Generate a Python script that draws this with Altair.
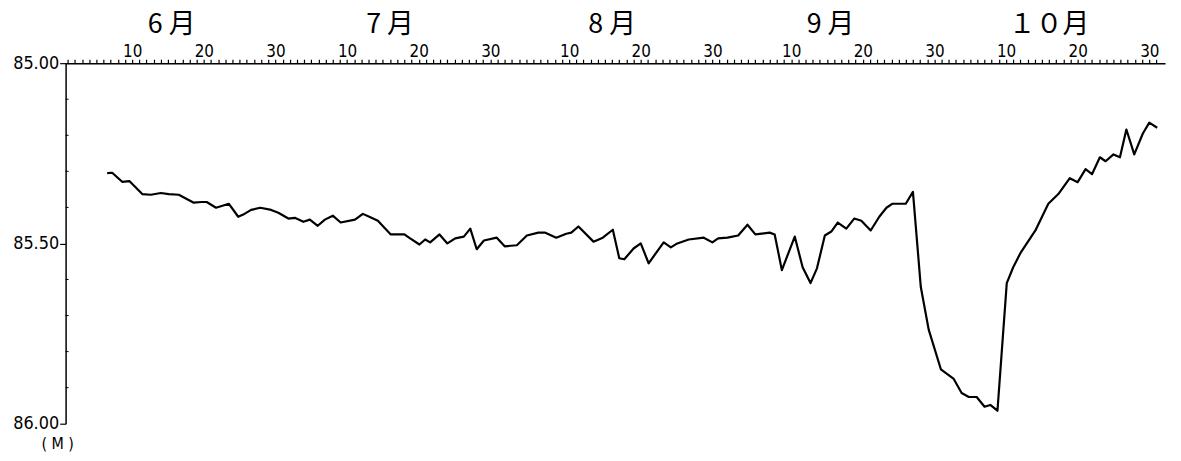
import altair as alt
import pandas as pd

# day number: June 1 = 1 ... Oct 31 = 153
day = [6.5, 7.2, 8.6, 9.6, 11.4, 12.6, 14.0, 15.1, 16.5, 18.6,
       19.7, 20.4, 21.7, 23.5, 24.8, 25.5, 26.6, 27.9, 29.4, 30.4,
       31.8, 32.7, 33.9, 34.8, 35.9, 36.9, 38.0, 39.1, 41.1, 42.2,
       43.1, 44.3, 46.1, 48.0, 48.8, 50.1, 50.9, 51.6, 52.9, 54.0,
       55.1, 56.3, 57.2, 58.1, 59.1, 60.9, 62.0, 63.7, 65.1, 66.7,
       67.6, 69.2, 70.6, 71.3, 72.3, 74.4, 75.7, 77.1, 78.0, 78.7,
       80.0, 81.0, 82.1, 84.2, 85.2, 86.1, 87.7, 89.8, 91.0, 91.8,
       93.1, 94.6, 95.9, 97.0, 99.0, 99.7, 100.7, 102.5, 103.6, 104.7,
       105.6, 106.7, 107.6, 108.5, 109.7, 110.8, 111.8, 113.1, 114.3, 115.3,
       116.1, 118.0, 119.0, 120.1, 121.2, 122.9, 124.7, 125.8, 126.8, 127.9,
       129.0, 129.8, 130.8, 132.1, 133.0, 134.0, 136.1, 137.9, 139.3, 140.9,
       142.0, 143.1, 144.0, 145.1, 145.9, 147.0, 147.9, 148.8, 149.9, 151.1,
       152.0, 153.1]

level = [85.305, 85.304, 85.329, 85.327, 85.363, 85.365, 85.360, 85.363, 85.365, 85.387,
         85.385, 85.385, 85.401, 85.390, 85.426, 85.420, 85.407, 85.401, 85.407, 85.415,
         85.431, 85.429, 85.440, 85.434, 85.451, 85.434, 85.423, 85.442, 85.434, 85.418,
         85.426, 85.437, 85.475, 85.475, 85.486, 85.503, 85.489, 85.497, 85.475, 85.500,
         85.486, 85.481, 85.459, 85.516, 85.492, 85.484, 85.508, 85.505, 85.478, 85.470,
         85.470, 85.484, 85.473, 85.470, 85.453, 85.495, 85.484, 85.462, 85.541, 85.544,
         85.514, 85.500, 85.555, 85.497, 85.511, 85.500, 85.489, 85.484, 85.497, 85.486,
         85.484, 85.478, 85.448, 85.475, 85.470, 85.475, 85.574, 85.481, 85.566, 85.610,
         85.569, 85.478, 85.467, 85.442, 85.459, 85.431, 85.437, 85.464, 85.426, 85.401,
         85.390, 85.390, 85.357, 85.621, 85.739, 85.849, 85.876, 85.915, 85.926, 85.926,
         85.953, 85.948, 85.964, 85.610, 85.566, 85.527, 85.464, 85.390, 85.363, 85.319,
         85.330, 85.294, 85.308, 85.261, 85.272, 85.253, 85.261, 85.184, 85.253, 85.195,
         85.165, 85.179]

month_names = ["6 月", "7 月", "8 月", "9 月", "１０月"]
month_len = [30, 31, 31, 30, 31]
day_labels = [10, 20, 30]
y_labels = [85.0, 85.5, 86.0]
y_minor = [85.1, 85.2, 85.3, 85.4, 85.6, 85.7, 85.8, 85.9]

W, H = 1107, 363
FONT = "DejaVu Sans Condensed, Liberation Sans Narrow, DejaVu Sans, sans-serif"
CJK = "Noto Sans CJK JP"

# month starts / midpoints
starts = []
s = 0
for L in month_len:
    starts.append(s)
    s += L
mids = [st + L / 2 + 0.5 for st, L in zip(starts, month_len)]
expr = "".join(f"datum.value=={v}?'{v - st}':" for st in starts for v in [st + d for d in day_labels]) + "''"

df = pd.DataFrame({"day": day, "level": level})
months = pd.DataFrame({"day": mids, "name": month_names})
minor = pd.DataFrame({"level": y_minor})

xscale = alt.Scale(domain=[0.7, 154.2], nice=False, zero=False)
yscale = alt.Scale(domain=[85.0, 86.0], reverse=True, nice=False, zero=False)

xaxis = alt.Axis(orient="top", values=list(range(1, 154)), labelExpr=expr,
                 labelOverlap=False, labelFlush=False, tickSize=4, tickColor="black",
                 tickWidth=1.2, domainColor="black", domainWidth=1.5,
                 labelFont=FONT, labelFontSize=17, labelColor="black",
                 labelPadding=-1, grid=False, title=None)
yaxis = alt.Axis(values=y_labels, format=".2f", tickSize=6, tickColor="black",
                 tickWidth=1.2, domainColor="black", domainWidth=1.5,
                 labelFont=FONT, labelFontSize=18, labelColor="black",
                 labelPadding=1, grid=False, title=None)

line = alt.Chart(df).mark_line(color="black", strokeWidth=2.2, strokeJoin="round").encode(
    x=alt.X("day:Q", scale=xscale, axis=xaxis),
    y=alt.Y("level:Q", scale=yscale, axis=yaxis),
)

mtext = alt.Chart(months).mark_text(font=CJK, fontSize=27, color="black",
                                    baseline="middle", align="center").encode(
    x=alt.X("day:Q", scale=xscale, axis=xaxis),
    y=alt.value(-38),
    text="name:N",
)

minor_ticks = alt.Chart(minor).mark_rule(color="black", strokeWidth=1).encode(
    y=alt.Y("level:Q", scale=yscale, axis=yaxis),
    x=alt.value(0), x2=alt.value(3),
)

unit = alt.Chart(pd.DataFrame({"u": ["( M )"]})).mark_text(
    font=FONT, fontSize=16, color="black", align="center", baseline="middle").encode(
    x=alt.value(-8), y=alt.value(H + 20), text="u:N")

chart = alt.layer(minor_ticks, line, mtext, unit).properties(
    width=W, height=H, autosize="none", background="white",
    padding={"left": 58, "top": 54, "right": 8, "bottom": 36},
).configure_view(stroke="transparent", strokeWidth=0)

chart.save("out.html", embed_options={"renderer": "svg", "actions": False})
